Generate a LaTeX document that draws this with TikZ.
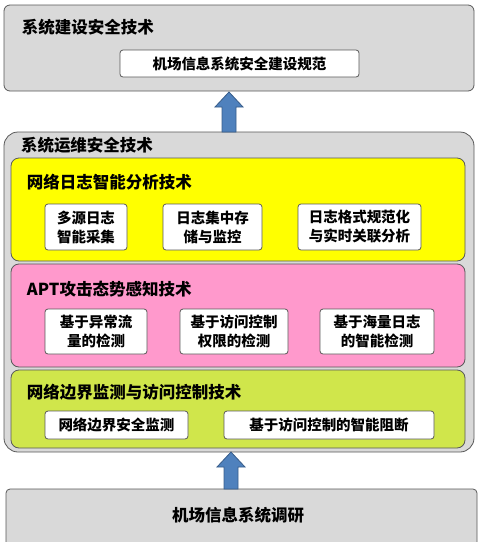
\documentclass[tikz,border=0pt]{standalone}
\usepackage{fontspec}
\newfontfamily\cjk{Noto Sans CJK SC}
\usetikzlibrary{calc}
\definecolor{panelgray}{HTML}{D9D9D9}
\definecolor{ylw}{HTML}{FFFF00}
\definecolor{pnk}{HTML}{FF99CC}
\definecolor{grn}{HTML}{D0E64B}
\definecolor{arrfill}{HTML}{4F81BD}
\definecolor{arrline}{HTML}{385D8A}
\definecolor{edge}{HTML}{595959}
\begin{document}
\begin{tikzpicture}[x=1pt,y=-1pt,
  every node/.style={inner sep=0pt, outer sep=0pt},
  panel/.style={draw=edge, line width=0.8pt, anchor=north west},
  whitebox/.style={draw=edge, line width=0.8pt, fill=white, rounded corners=3pt,
     anchor=north west, align=center, font=\cjk\bfseries\fontsize{14.5}{19}\selectfont},
  title/.style={anchor=west, font=\cjk\bfseries\fontsize{16.5}{20}\selectfont},
  blockarrow/.style={fill=arrfill, draw=arrline, line width=0.8pt, line join=miter}]
\useasboundingbox (0,0) rectangle (479,542);
% top panel
\node[panel, fill=panelgray, rounded corners=6pt, minimum width=470pt, minimum height=86pt] (top) at (4,5) {};
\node[title] (toptitle) at (22,27) {系统建设安全技术};
\node[whitebox, minimum width=239pt, minimum height=27pt] (spec) at (120,50) {机场信息系统安全建设规范};
% middle panel
\node[panel, fill=panelgray, rounded corners=14pt, minimum width=470pt, minimum height=320pt] (mid) at (4,132) {};
\node[title] (midtitle) at (21,145) {系统运维安全技术};
% yellow
\node[panel, fill=ylw, rounded corners=8pt, minimum width=454pt, minimum height=103pt] (ylwbox) at (11,158) {};
\node[title] (ylwtitle) at (27,182) {网络日志智能分析技术};
\node[whitebox, minimum width=82pt, minimum height=46pt] (y1) at (45,204) {多源日志\\智能采集};
\node[whitebox, minimum width=99pt, minimum height=46pt] (y2) at (163,204) {日志集中存\\储与监控};
\node[whitebox, minimum width=123pt, minimum height=46pt] (y3) at (298,204) {日志格式规范化\\与实时关联分析};
% pink
\node[panel, fill=pnk, rounded corners=8pt, minimum width=454pt, minimum height=103pt] (pnkbox) at (11,264) {};
\node[title] (pnktitle) at (27,289) {APT攻击态势感知技术};
\node[whitebox, minimum width=102pt, minimum height=45pt] (p1) at (45,309) {基于异常流\\量的检测};
\node[whitebox, minimum width=108pt, minimum height=45pt] (p2) at (180,309) {基于访问控制\\权限的检测};
\node[whitebox, minimum width=114pt, minimum height=45pt] (p3) at (320,309) {基于海量日志\\的智能检测};
% green
\node[panel, fill=grn, rounded corners=8pt, minimum width=454pt, minimum height=78pt] (grnbox) at (11,370) {};
\node[title] (grntitle) at (27,392) {网络边界监测与访问控制技术};
\node[whitebox, minimum width=143pt, minimum height=28pt] (g1) at (45,411) {网络边界安全监测};
\node[whitebox, minimum width=210pt, minimum height=28pt] (g2) at (224,411) {基于访问控制的智能阻断};
% bottom panel
\node[panel, fill=panelgray, rounded corners=4pt, minimum width=471pt, minimum height=70pt] (bot) at (6,489) {};
\node[font=\cjk\bfseries\fontsize{16.5}{20}\selectfont] (bottext) at (238,515) {机场信息系统调研};
% arrows
\coordinate (t1) at ($(top.south)+(-10,1)$);
\coordinate (b1) at (t1 |- mid.north);
\draw[blockarrow] ($(b1)+(-7,0)$) -- ($(t1)+(-7,15)$) -- ($(t1)+(-14,15)$) -- (t1)
  -- ($(t1)+(14,15)$) -- ($(t1)+(7,15)$) -- ($(b1)+(7,0)$) -- cycle;
\coordinate (t2) at ($(mid.south)+(-8,0)$);
\coordinate (b2) at (t2 |- bot.north);
\draw[blockarrow] ($(b2)+(-7,0)$) -- ($(t2)+(-7,15)$) -- ($(t2)+(-14,15)$) -- (t2)
  -- ($(t2)+(14,15)$) -- ($(t2)+(7,15)$) -- ($(b2)+(7,0)$) -- cycle;
\end{tikzpicture}
\end{document}
